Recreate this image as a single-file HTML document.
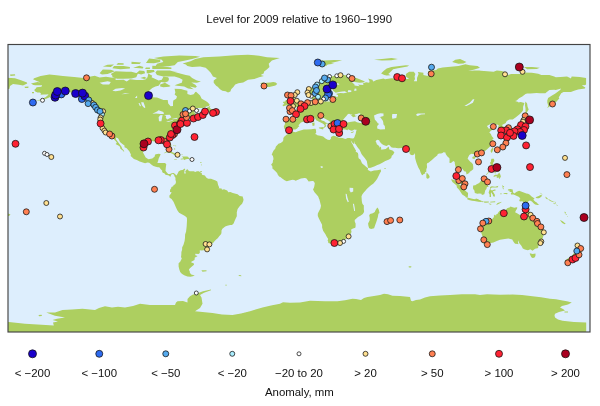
<!DOCTYPE html>
<html><head><meta charset="utf-8"><title>Level for 2009 relative to 1960-1990</title>
<style>
html,body{margin:0;padding:0;background:#fff}
svg{display:block}
text{font-family:"Liberation Sans",Arial,Helvetica,sans-serif;font-size:11.43px;fill:#111;text-anchor:middle}
</style></head><body>
<svg width="600" height="406" viewBox="0 0 600 406">
<rect width="600" height="406" fill="#fff"/>
<text x="299.2" y="23.3">Level for 2009 relative to 1960−1990</text>
<defs><filter id="b" filterUnits="userSpaceOnUse" x="0" y="0" width="600" height="406"><feGaussianBlur stdDeviation="0.4"/></filter><clipPath id="c"><rect x="8" y="44.5" width="582" height="287.5"/></clipPath></defs>
<rect x="8" y="44.5" width="582" height="287.5" fill="#ddeefd"/>
<g clip-path="url(#c)" filter="url(#b)">
<path fill="#adcf60" d="M31.0 83.5L37.4 82.0L40.6 82.5L37.4 81.3L33.0 79.2L34.2 78.2L40.6 76.0L49.4 74.4L56.6 75.2L62.9 76.0L74.1 77.1L83.7 78.1L86.9 77.3L94.8 75.7L99.6 77.4L106.0 76.8L115.6 78.2L115.6 80.0L123.6 79.8L126.7 81.6L129.9 79.3L136.3 80.0L142.7 80.0L145.9 79.3L147.5 77.3L148.3 73.4L152.3 75.7L151.5 77.3L155.4 78.9L158.6 80.5L161.8 79.7L163.4 76.8L168.2 77.3L169.0 78.9L168.2 81.3L165.0 82.4L161.0 82.0L160.2 83.6L158.6 85.7L155.4 86.4L153.9 87.2L152.3 88.0L149.1 90.8L148.8 94.3L151.5 97.2L157.0 97.5L163.4 99.9L167.7 100.1L168.2 103.6L170.6 106.3L173.0 106.0L173.0 102.8L173.3 100.4L176.2 98.8L177.0 96.4L174.6 94.5L175.4 92.4L174.6 88.8L181.0 88.9L184.2 90.0L187.4 90.8L187.4 94.0L190.5 95.1L193.7 94.3L195.3 92.0L196.1 91.8L200.1 95.6L201.7 98.8L204.9 100.4L207.3 102.0L209.7 104.4L208.9 106.0L205.7 106.8L203.3 108.1L198.5 107.9L192.9 108.1L189.7 110.3L187.4 112.4L185.8 113.4L188.9 111.6L192.1 110.0L196.1 110.0L196.4 110.3L195.3 111.6L193.7 111.6L195.3 113.2L196.1 114.5L198.5 115.1L200.9 115.3L203.3 114.5L203.3 115.3L201.7 116.1L197.7 117.0L194.5 118.8L193.4 118.0L195.3 116.4L196.1 115.6L193.7 116.2L192.1 116.7L188.9 118.0L187.0 118.6L186.4 120.2L185.8 120.7L187.4 121.2L186.4 122.0L185.0 122.1L182.6 122.5L181.0 123.4L181.0 124.8L179.5 126.1L178.6 125.2L179.2 126.8L178.6 127.9L177.8 129.2L178.6 132.0L177.0 132.8L174.6 134.1L173.0 135.1L171.4 136.0L169.8 137.1L169.2 139.9L170.6 142.7L171.4 145.6L171.1 147.2L169.8 148.2L168.5 146.7L167.1 143.9L166.9 141.9L165.0 140.3L162.9 140.8L159.9 139.9L158.6 139.9L156.7 141.9L155.4 141.8L153.1 141.3L150.7 140.8L147.8 141.5L144.0 143.9L144.0 146.7L143.0 152.6L145.7 157.6L148.4 159.2L152.3 158.5L154.7 156.6L155.0 154.7L155.9 154.2L158.6 153.8L160.2 153.9L160.6 154.6L159.4 157.1L158.6 158.7L158.3 160.3L157.4 162.9L158.6 163.0L161.8 162.9L165.0 163.0L166.3 164.3L165.8 167.5L165.5 170.7L166.6 172.3L168.2 173.9L170.1 174.0L171.6 173.2L173.8 173.1L175.5 174.4L176.5 175.5L177.8 173.2L178.6 171.6L179.7 170.7L180.7 170.2L182.6 169.9L184.6 168.4L185.3 169.4L184.3 170.5L184.8 171.2L185.8 170.7L187.4 168.8L187.7 169.9L189.7 171.3L192.1 171.3L193.7 171.3L195.3 172.1L196.9 171.3L200.1 171.2L198.8 171.6L201.7 173.1L202.0 174.7L204.9 175.5L206.2 177.4L208.1 178.7L211.0 178.8L215.6 180.4L217.3 181.4L218.1 185.1L219.2 187.5L218.5 188.2L221.6 188.6L222.0 189.8L224.0 189.2L227.2 190.6L228.3 192.2L230.4 192.1L232.8 192.9L237.6 194.2L239.7 195.9L242.7 196.6L242.9 197.5L243.5 199.6L243.3 201.0L242.1 203.7L240.0 205.8L237.6 209.0L236.8 212.2L236.8 216.2L235.7 218.6L234.7 220.7L233.6 223.4L232.0 225.0L230.1 225.0L227.2 225.8L225.2 226.6L222.4 228.7L221.5 230.6L221.5 232.3L221.2 233.9L219.2 236.2L217.7 238.2L215.9 239.7L213.8 242.1L212.9 243.3L211.3 244.1L209.4 244.0L206.8 243.2L205.9 242.5L205.9 243.5L207.8 244.9L207.6 246.2L208.6 246.5L207.3 248.9L204.9 250.1L201.7 250.5L199.8 250.2L199.8 252.9L198.5 253.9L195.3 253.7L195.3 255.3L197.6 256.1L196.1 256.9L194.8 257.4L194.5 260.1L191.3 261.7L191.3 262.5L193.7 263.3L194.0 264.7L191.3 267.0L189.7 268.4L188.9 269.7L189.9 271.8L189.7 272.3L190.2 273.2L191.3 274.5L194.8 275.6L192.9 276.2L190.5 276.7L187.4 276.4L184.2 275.3L181.8 273.7L180.2 272.1L179.4 269.7L178.6 266.5L178.6 263.3L180.2 261.7L181.8 258.5L181.0 256.9L181.3 255.0L181.4 252.1L182.1 249.7L182.2 247.3L183.4 244.9L184.6 241.0L185.0 237.8L185.1 234.6L186.1 231.4L186.7 226.1L187.0 220.5L186.9 217.8L185.0 215.9L181.8 214.3L179.1 212.7L177.3 210.3L176.0 207.4L174.6 204.2L173.5 201.8L171.6 199.1L169.6 197.8L169.3 195.8L170.9 193.7L171.6 192.2L170.0 191.9L170.1 189.8L171.2 188.2L171.4 187.0L173.2 186.2L173.3 185.4L175.4 184.1L176.0 182.0L175.4 179.5L175.5 177.7L174.7 176.8L174.3 175.6L174.0 174.8L173.0 173.9L172.2 173.9L170.9 175.0L170.8 176.6L169.8 176.6L169.5 176.0L168.2 175.2L166.6 175.0L165.5 174.7L164.1 173.1L163.3 172.9L162.1 172.0L162.3 170.7L161.0 169.4L159.4 167.6L159.3 167.2L157.8 167.2L155.8 166.7L153.4 166.1L151.9 165.1L149.2 162.7L147.5 162.4L145.1 163.2L139.7 161.4L136.8 160.0L133.9 159.0L132.6 157.7L130.4 155.7L131.0 155.2L130.7 153.9L129.3 151.2L126.7 148.3L124.5 147.2L124.5 145.6L122.1 143.7L120.0 141.9L118.8 139.5L118.0 138.3L115.9 137.5L116.1 139.5L118.0 141.9L119.1 143.5L120.4 145.3L121.5 146.7L122.4 149.1L123.1 149.6L124.3 151.2L123.7 151.7L123.1 150.7L120.4 148.8L120.0 146.7L118.4 145.6L116.9 144.8L115.6 143.9L116.9 142.7L115.6 141.1L114.3 139.7L112.9 137.6L112.1 136.0L110.2 134.1L108.4 133.5L106.8 133.2L106.0 131.6L104.6 129.8L103.6 127.9L102.8 127.6L101.5 125.2L100.6 123.7L100.9 121.2L100.4 119.9L101.2 117.2L101.2 114.5L100.9 113.2L100.1 111.0L102.8 111.3L103.8 112.2L103.6 110.3L102.5 109.5L99.9 107.9L96.4 106.8L95.2 104.7L93.2 102.8L91.2 101.5L90.9 99.6L88.5 98.0L85.3 95.6L82.9 93.5L80.5 94.8L78.1 93.7L76.0 93.1L72.5 92.4L69.3 92.3L66.6 91.6L65.3 90.8L62.9 91.2L62.1 92.4L60.5 92.4L57.4 93.7L57.4 91.6L59.8 90.5L57.4 90.8L55.8 92.0L54.2 93.2L53.4 94.8L51.0 96.4L48.6 97.7L46.2 98.8L43.0 99.6L39.8 100.4L38.4 100.7L36.1 101.1L39.0 99.9L42.2 98.8L45.4 97.2L47.6 95.6L48.6 94.3L46.2 94.5L43.8 94.5L40.6 94.7L40.9 93.2L39.8 92.4L37.4 92.4L35.3 91.6L34.2 90.0L35.8 88.4L36.6 87.3L41.4 86.8L42.2 85.2L39.0 85.2L35.2 85.2L33.4 84.9ZM182.6 63.4L190.5 61.3L195.3 58.9L203.3 57.3L219.2 56.5L235.2 55.2L248.0 54.7L259.1 55.7L267.1 57.3L279.9 58.1L271.9 60.5L268.7 63.7L269.5 66.9L267.1 69.3L263.9 71.7L263.9 73.3L260.7 74.9L263.9 76.0L259.1 77.3L254.3 79.0L248.0 79.7L243.2 82.4L238.4 83.2L235.2 84.4L233.6 86.8L231.2 89.2L230.4 91.6L228.0 92.6L225.6 91.3L222.4 90.8L220.0 89.2L217.7 86.8L216.1 85.7L213.7 82.8L213.7 80.5L216.9 78.1L212.9 76.5L212.1 74.9L210.5 72.5L208.1 70.1L205.7 67.7L200.1 66.6L192.1 66.9L187.4 66.1L185.8 64.5ZM195.3 89.4L188.1 88.4L184.2 86.4L177.0 85.7L174.6 85.2L179.4 83.6L181.8 82.8L182.6 79.7L179.4 78.1L174.6 76.5L168.2 76.5L163.4 76.5L157.0 74.9L155.4 72.5L157.0 70.6L163.4 70.4L169.8 70.6L174.6 71.7L177.8 71.7L174.6 72.1L181.0 73.7L185.8 74.9L189.7 75.7L192.1 78.1L196.9 80.5L200.9 81.6L196.9 82.8L191.3 82.4L195.3 84.8L196.9 86.8L195.3 87.8L189.7 86.5L193.7 89.2ZM290.4 130.6L289.0 130.0L287.8 128.8L284.6 129.2L283.8 126.4L284.8 124.4L285.1 122.5L284.2 119.6L285.6 118.9L286.4 118.3L289.9 118.6L292.9 118.8L296.1 118.9L296.6 118.8L297.1 116.9L297.2 115.4L297.1 114.5L295.5 113.2L295.0 112.7L292.0 111.9L291.3 111.0L293.4 110.3L295.8 110.6L296.4 110.5L296.3 108.9L297.1 109.4L299.2 109.2L300.8 108.6L301.9 107.0L302.8 106.8L303.8 106.3L304.7 106.2L305.4 105.2L306.7 103.6L307.8 103.0L310.2 102.8L311.8 102.7L312.7 102.2L313.2 101.5L312.7 100.4L312.2 99.6L311.9 98.0L312.7 97.1L315.9 96.1L315.7 97.2L315.4 98.0L315.4 98.7L314.6 99.9L314.2 100.7L315.3 101.4L316.4 102.0L317.3 102.0L318.3 101.7L319.7 101.4L320.9 101.1L321.6 102.2L324.5 101.5L328.7 101.4L330.1 101.4L330.9 100.7L332.5 99.9L332.7 99.3L332.5 98.0L333.3 96.6L335.0 96.0L337.3 97.2L337.9 95.9L338.1 95.0L336.5 94.5L336.5 93.7L338.6 93.2L340.5 93.1L343.7 93.2L347.2 92.6L344.8 91.3L342.1 91.6L338.9 92.1L335.7 92.7L334.4 91.8L333.0 90.8L333.1 89.2L333.3 87.5L335.7 86.0L338.1 84.8L339.5 84.4L338.1 83.2L337.4 83.2L334.4 83.5L333.0 85.1L331.4 86.4L328.5 87.8L326.8 88.6L326.4 91.3L328.5 92.0L329.3 92.7L326.9 94.5L325.6 95.9L325.2 97.7L323.9 98.7L321.8 99.6L319.7 99.6L319.3 98.7L318.0 96.1L316.9 94.0L316.1 92.6L315.7 93.7L314.2 94.3L311.8 95.5L310.2 95.6L308.1 94.0L307.3 91.8L307.0 90.0L307.3 88.9L308.7 88.4L311.3 87.5L314.2 86.5L316.5 84.6L318.6 83.2L319.7 82.0L322.0 80.8L323.7 79.3L325.3 78.9L329.3 76.9L332.5 76.3L336.8 75.3L340.2 74.7L343.7 74.9L348.4 75.8L345.3 76.8L349.2 76.9L351.6 77.6L356.4 77.9L359.6 79.2L364.4 81.3L364.7 81.9L362.8 82.5L359.6 82.7L354.8 82.0L350.8 81.1L352.4 82.4L354.5 84.4L354.5 85.4L359.6 86.2L358.0 84.4L359.6 84.8L363.6 85.1L362.8 83.6L366.0 82.2L369.2 82.8L369.5 81.3L368.9 79.7L368.1 78.5L372.4 79.7L373.2 81.4L374.0 81.3L376.4 80.1L383.5 78.4L385.1 79.3L386.7 78.9L391.5 78.2L394.7 78.5L395.5 76.9L397.9 76.9L401.9 77.6L405.9 78.4L405.9 78.9L409.1 78.9L405.9 76.5L405.9 74.1L409.1 71.7L413.8 71.7L415.4 74.1L414.6 76.5L415.0 78.9L413.8 81.3L417.0 81.3L417.0 78.1L418.6 74.1L417.8 72.0L423.4 72.8L423.4 74.9L426.6 75.7L431.4 76.1L428.2 73.3L428.2 70.9L436.2 70.1L437.8 68.5L442.6 67.4L450.5 66.7L458.5 66.1L465.4 64.2L469.7 65.3L477.6 66.1L480.0 67.7L474.4 69.6L468.1 70.9L474.4 70.4L479.2 70.6L480.8 70.7L487.2 71.2L493.6 71.7L496.8 70.6L501.6 70.9L504.8 72.0L504.8 74.1L507.9 74.9L511.1 74.1L515.9 74.1L520.7 74.1L522.3 72.5L531.9 72.8L538.2 73.7L541.4 75.0L549.4 74.9L554.2 76.5L555.8 77.3L560.6 76.9L567.0 76.6L570.1 78.1L570.9 78.4L571.7 76.5L579.7 76.9L586.1 78.1L586.1 84.4L584.5 85.2L582.1 84.9L582.9 86.0L585.3 87.6L585.0 88.6L578.1 89.6L574.1 90.8L570.9 92.1L563.5 92.0L561.2 93.2L559.6 95.9L558.7 97.2L559.3 98.5L557.4 100.4L557.1 101.2L554.2 103.1L552.1 103.6L551.0 105.2L548.9 107.0L547.2 107.9L548.3 106.0L547.3 102.5L547.3 100.4L548.1 98.0L552.0 95.6L555.0 93.7L557.4 92.0L560.1 90.0L561.2 88.6L555.8 90.0L554.2 89.7L549.4 90.0L546.2 92.4L545.4 93.2L539.8 93.2L536.7 92.9L530.3 93.5L527.1 93.5L525.5 94.0L522.3 96.4L519.1 98.3L516.7 100.4L515.1 100.9L518.3 102.0L518.3 102.5L520.7 102.0L524.4 103.1L523.9 104.4L523.1 106.8L523.1 110.0L522.3 111.6L519.9 114.0L515.9 117.2L512.7 119.6L509.5 119.4L507.5 120.4L506.0 122.0L505.9 123.1L502.4 124.7L502.2 125.6L503.8 126.8L505.4 129.2L505.6 130.8L504.9 132.2L502.4 132.8L500.4 133.2L500.4 132.4L500.8 130.0L500.9 128.4L499.2 128.0L498.1 127.6L498.7 125.2L497.4 124.5L497.3 124.4L493.6 125.8L492.8 126.3L493.3 124.4L493.6 123.3L492.0 123.1L489.6 124.5L486.9 126.0L488.0 127.6L488.8 128.7L491.5 127.9L492.6 128.4L494.4 128.5L490.9 130.8L489.3 132.4L490.9 134.0L491.8 136.2L493.4 137.9L493.4 138.9L491.7 139.9L493.6 140.5L493.0 142.7L491.7 143.5L489.8 146.7L487.4 149.1L485.1 151.0L481.1 152.6L480.0 152.8L477.3 153.8L475.2 154.2L474.9 155.8L474.1 155.8L474.0 153.9L472.9 153.9L471.3 153.8L469.3 155.0L467.8 157.9L467.6 158.4L468.9 160.3L470.6 161.9L471.7 162.7L472.9 164.3L473.2 166.2L473.3 168.3L473.2 169.2L471.4 170.8L469.8 171.8L469.2 173.1L466.5 174.5L466.2 172.6L465.7 171.6L464.1 171.3L463.3 169.9L462.2 168.8L460.1 168.0L459.3 166.7L458.5 167.0L458.5 169.1L457.7 170.7L457.2 171.8L457.4 173.6L458.5 174.7L459.5 176.8L460.9 177.2L462.2 178.3L463.9 180.6L463.9 182.2L464.6 184.1L465.2 186.0L464.6 186.2L463.9 185.9L462.0 184.7L460.6 183.6L459.5 181.5L459.0 179.6L458.7 178.0L458.0 177.2L456.9 175.8L455.8 175.6L455.8 173.9L456.3 172.3L456.1 169.1L456.3 168.4L455.3 165.9L454.8 163.5L454.7 161.9L453.6 161.1L452.4 161.7L451.0 163.0L449.4 162.7L449.6 160.3L449.4 158.2L447.2 156.2L445.7 154.1L445.4 152.6L443.3 152.2L442.6 153.1L441.0 153.4L439.4 153.6L437.8 153.9L437.4 155.2L435.9 156.6L434.6 157.4L431.9 160.0L430.3 161.3L428.5 162.7L427.4 163.0L426.8 164.3L427.1 167.3L426.3 169.2L426.3 171.8L425.0 172.3L425.3 173.4L423.7 174.0L422.6 175.3L421.7 174.7L420.5 172.3L419.9 170.2L418.3 167.6L416.7 163.5L415.9 161.1L415.1 157.9L415.1 154.7L414.6 153.1L414.2 154.4L412.2 155.2L410.6 154.7L409.1 152.8L410.6 151.8L409.1 151.8L408.3 150.7L406.7 149.9L405.9 148.6L405.1 147.7L401.9 148.0L398.4 148.2L396.3 148.0L395.5 147.8L393.1 147.7L391.2 147.2L389.9 145.6L388.8 144.8L386.4 145.9L383.5 145.1L381.9 143.9L380.0 142.1L379.1 140.3L377.2 139.7L376.5 140.3L375.6 141.3L376.4 142.7L376.8 144.2L379.1 145.9L379.7 147.8L380.7 146.6L381.3 148.3L380.8 149.4L382.7 149.6L385.8 149.1L387.2 147.8L388.8 146.4L389.0 148.3L389.4 149.4L392.5 150.6L394.4 152.3L393.1 154.7L391.8 155.7L391.2 157.9L389.1 159.5L387.2 160.3L385.3 161.1L382.3 162.7L379.5 164.3L377.3 165.1L374.8 166.2L370.8 167.8L368.4 168.0L367.9 167.0L367.4 164.6L367.1 162.7L366.8 161.1L364.7 157.9L362.8 155.8L361.5 153.9L360.4 151.5L359.6 149.8L358.3 148.3L357.2 146.7L355.6 144.3L354.5 143.5L354.8 141.1L353.9 143.5L353.7 144.0L352.6 143.1L350.8 140.3L350.5 138.3L352.9 138.6L353.7 138.3L354.5 137.1L354.8 135.9L355.6 134.1L356.1 131.6L356.7 129.8L355.3 129.8L354.2 129.5L352.8 130.4L351.3 130.8L348.0 129.3L347.6 130.3L345.4 129.6L344.1 129.5L342.7 129.2L342.4 127.7L341.7 126.9L341.1 125.5L340.6 125.2L340.8 124.4L342.1 123.7L345.3 123.7L345.3 122.8L345.6 122.5L349.1 122.3L349.7 122.0L355.0 121.2L356.9 122.3L360.2 122.9L362.3 122.8L365.4 121.8L365.5 120.9L364.4 119.6L362.3 118.6L359.3 116.9L357.4 116.1L358.7 115.7L359.9 114.5L359.9 113.5L361.7 112.9L358.8 113.2L357.7 113.7L355.3 114.3L354.5 114.6L355.3 115.7L357.2 115.7L355.5 116.4L353.5 117.2L352.4 117.0L352.4 116.1L350.8 115.7L352.6 114.6L350.8 114.6L349.2 113.8L348.0 114.0L346.4 115.9L344.8 117.7L343.5 119.3L342.9 120.4L343.8 121.8L345.3 122.5L345.1 122.8L342.9 122.8L341.6 123.7L340.8 124.2L340.5 123.3L340.3 123.1L337.9 122.9L337.0 123.6L337.3 124.4L336.3 124.1L335.5 123.6L335.0 124.4L335.7 125.5L336.2 126.3L337.3 127.2L337.3 128.0L336.6 127.7L335.7 127.7L336.0 128.7L336.0 130.0L334.9 130.1L333.6 129.5L333.0 128.0L333.6 127.2L332.7 127.1L332.0 126.1L331.2 125.0L330.7 124.5L329.9 123.7L329.9 122.3L329.6 121.2L327.9 120.2L325.2 118.8L323.2 117.8L322.8 116.4L322.0 115.9L321.2 116.7L320.7 115.6L320.9 115.3L318.6 115.7L318.6 117.2L319.1 118.0L320.5 118.6L321.6 120.4L324.8 121.3L324.5 122.0L326.0 122.6L327.7 123.4L328.5 124.2L328.3 124.7L326.4 123.6L325.5 124.8L326.3 126.0L325.3 126.9L324.5 127.7L323.9 127.4L324.2 126.4L324.8 126.0L324.0 124.4L322.6 123.4L321.6 123.1L320.7 122.5L318.5 121.5L317.8 121.0L316.5 120.5L315.7 119.6L315.4 118.8L314.6 117.8L313.2 117.3L312.1 118.0L310.6 118.5L308.6 119.4L307.6 119.1L305.7 118.8L304.9 118.9L303.8 120.2L304.1 121.2L302.5 122.1L300.9 122.6L300.3 123.3L298.5 125.2L299.3 126.4L298.2 127.1L297.4 128.2L295.5 129.6L295.0 129.5L292.0 129.6ZM289.6 131.1L290.5 130.9L294.2 131.9L295.8 132.2L298.0 131.2L303.8 129.5L307.0 129.5L311.4 129.3L314.6 128.7L316.5 129.0L315.4 129.5L315.9 130.1L316.1 131.1L316.2 132.8L315.1 134.1L316.5 134.4L317.3 135.2L320.1 135.7L323.1 136.5L325.5 138.4L327.7 139.7L329.6 139.9L330.9 138.7L330.9 137.0L333.3 135.7L335.0 135.9L337.3 137.0L338.9 137.8L342.4 138.1L345.3 138.9L346.7 138.4L347.5 137.9L349.7 137.9L350.5 138.3L350.8 140.3L351.0 141.1L351.6 142.7L352.9 144.8L353.7 146.7L354.8 148.6L355.6 149.9L356.1 150.1L355.6 151.5L357.9 153.1L358.3 154.7L358.3 156.9L358.8 158.4L360.4 159.5L362.0 163.3L363.1 164.3L364.7 165.4L366.6 167.2L367.1 167.5L368.1 168.3L367.7 169.7L368.4 170.2L370.8 171.6L374.0 170.5L377.2 170.2L380.8 169.4L381.0 171.6L380.0 173.1L378.8 175.5L377.2 178.7L375.6 181.1L373.2 183.8L371.3 185.1L369.2 186.7L366.8 188.9L365.2 191.1L364.2 191.9L363.0 193.4L362.3 194.6L361.5 196.2L361.7 199.1L361.8 201.0L362.3 203.4L363.1 204.7L363.8 205.3L363.8 209.0L364.1 211.4L363.9 212.2L362.8 214.1L360.4 215.7L358.0 217.0L354.7 219.9L354.8 221.8L355.6 223.4L355.6 226.4L355.3 227.7L352.4 228.7L351.0 229.8L351.5 231.4L351.0 233.4L350.2 234.2L348.4 236.0L346.9 238.2L343.5 241.0L339.8 242.5L338.1 242.9L334.4 242.7L330.9 243.8L328.3 243.0L328.2 241.7L327.6 240.5L328.2 239.0L326.6 236.6L325.3 233.9L323.1 230.7L322.1 227.4L322.1 224.8L320.4 221.5L318.9 218.6L317.8 215.9L317.8 213.8L318.3 212.5L320.4 208.4L321.0 205.8L320.1 202.3L319.4 199.4L318.6 197.8L318.5 197.0L317.8 195.9L316.5 194.5L314.5 192.2L313.4 190.3L313.0 189.4L314.0 187.6L314.3 186.3L314.6 184.6L314.8 183.6L314.2 182.0L313.2 181.1L312.2 180.9L310.2 181.2L308.6 181.4L307.6 179.9L306.2 178.2L304.4 178.0L302.8 178.2L300.9 178.5L298.7 179.5L297.4 179.9L295.7 180.7L294.2 180.1L292.6 179.8L289.4 180.6L286.7 181.2L284.6 180.3L281.8 178.2L280.7 177.2L279.1 176.4L277.8 174.7L277.1 173.1L275.7 171.5L274.9 170.7L273.6 169.4L272.4 168.4L272.4 166.9L272.2 165.9L271.1 164.8L272.0 163.5L272.7 162.7L273.0 160.3L273.5 159.3L273.2 157.1L272.7 155.5L271.7 155.0L272.0 153.9L272.7 152.3L273.6 150.4L275.2 148.8L275.9 146.6L277.6 144.8L278.4 143.7L280.7 143.1L282.7 141.5L283.5 139.7L283.2 139.4L283.4 137.9L284.2 136.7L286.9 134.6L288.2 134.0L289.0 132.4ZM377.6 207.4L378.8 209.8L379.5 213.0L378.4 213.8L378.0 216.2L377.8 217.3L376.4 221.8L375.2 225.0L374.1 228.2L371.1 229.1L369.2 228.2L368.4 225.8L368.1 223.4L369.7 220.2L369.7 217.8L369.2 215.4L370.0 214.1L372.8 213.3L374.8 211.9L375.6 210.0L376.8 208.2ZM526.3 205.3L527.9 208.2L528.4 211.1L530.8 212.2L531.6 215.2L532.2 217.8L533.1 219.1L535.9 220.5L537.0 222.1L539.2 224.3L539.7 225.8L541.1 226.9L543.4 228.2L543.4 232.0L544.0 233.8L543.0 237.0L542.2 239.7L540.3 242.2L539.5 244.1L538.2 246.5L538.2 248.1L535.1 248.8L532.5 250.7L530.3 249.3L529.8 249.4L527.9 250.2L524.9 249.6L522.8 248.6L521.8 246.5L521.0 245.3L519.9 244.1L519.1 242.9L518.8 241.0L518.8 240.2L518.0 242.2L518.5 244.3L515.9 243.8L515.8 244.0L514.6 243.3L513.0 241.0L512.3 239.5L508.3 238.6L504.8 238.9L500.0 239.8L496.8 241.0L493.4 242.4L489.6 243.2L487.1 244.3L482.6 243.2L482.4 241.7L483.4 241.4L483.5 239.4L482.7 237.0L481.8 234.2L481.0 232.2L479.9 230.1L480.0 228.2L480.4 228.0L480.2 225.8L481.0 223.1L481.8 223.1L482.6 222.7L485.3 221.3L488.2 220.7L490.4 220.0L492.8 218.6L493.9 217.0L493.9 215.4L495.0 214.4L496.1 215.9L496.1 214.6L497.6 213.8L498.4 212.2L500.0 210.6L501.6 210.3L503.2 211.9L503.5 212.7L504.8 212.0L505.6 210.6L506.4 209.0L507.6 208.1L509.5 207.6L510.5 206.5L511.9 207.1L514.3 207.7L516.7 207.3L517.4 207.7L516.7 209.3L515.9 210.6L515.1 212.2L517.5 213.6L519.9 215.1L521.5 216.2L523.6 216.2L523.7 216.0L524.7 213.8L524.9 211.4L524.9 209.0L525.3 208.4L525.5 206.6ZM529.8 253.2L532.7 253.9L535.5 253.6L535.5 255.6L534.9 257.2L533.1 257.9L531.9 257.7L530.8 256.3L529.8 254.0ZM574.5 243.2L577.0 244.9L577.8 247.0L579.4 247.0L579.7 248.3L581.3 248.9L583.7 248.5L582.9 250.5L581.3 251.3L581.3 252.9L579.7 254.2L578.4 254.7L577.8 254.2L578.4 252.4L576.5 251.5L576.2 251.0L577.5 250.2L577.6 248.1L576.8 246.5L574.9 244.5ZM574.5 252.9L575.1 254.2L577.0 254.0L576.8 255.0L576.1 256.0L574.6 257.7L575.1 258.2L572.2 259.0L571.1 261.6L569.4 262.7L567.4 262.7L566.2 262.0L564.6 261.6L565.4 260.1L566.6 259.5L567.8 258.5L570.1 257.1L572.1 256.0L572.7 254.8L573.5 253.6ZM289.9 108.2L291.8 107.9L292.5 107.9L293.4 107.6L294.2 107.3L295.2 107.6L296.9 107.1L298.8 107.1L301.2 106.6L301.2 106.2L299.8 106.0L300.6 105.5L301.8 104.4L301.1 103.8L299.5 103.8L299.5 102.8L299.0 102.7L298.7 101.9L298.0 101.2L296.8 100.4L295.8 99.1L293.9 98.8L294.9 98.3L294.4 98.0L295.7 97.1L296.1 96.4L295.8 96.1L292.3 96.4L292.6 95.8L294.1 95.0L294.2 94.7L291.0 94.7L290.5 95.3L289.7 96.4L290.1 97.2L289.1 97.7L290.2 98.2L289.7 99.9L291.0 99.3L291.2 99.0L291.5 99.8L290.9 100.6L291.2 101.1L293.4 100.6L293.3 101.2L293.9 101.9L294.4 102.3L294.1 103.0L292.0 103.0L291.7 103.9L292.5 104.4L291.5 105.0L290.5 105.4L291.0 105.8L292.6 105.8L293.9 106.2L294.7 106.0L293.4 106.5L292.3 106.5L291.8 106.8L291.0 107.6ZM287.2 99.8L289.1 100.1L290.2 100.9L290.2 101.5L289.1 102.0L289.3 103.1L289.0 104.9L287.8 105.0L285.8 105.5L283.4 106.2L282.6 105.2L282.4 105.0L283.8 104.2L284.0 103.6L284.6 103.3L283.1 103.0L283.1 101.7L285.4 101.5L285.1 100.9L285.8 100.3ZM259.9 83.6L263.1 82.2L264.7 83.6L266.6 82.7L270.3 82.5L273.2 82.0L275.7 82.4L277.3 84.0L275.4 85.4L273.5 86.0L269.2 87.0L266.6 86.7L262.8 86.4L263.9 85.6L260.7 84.6L263.9 84.3ZM507.9 134.0L509.5 132.5L511.3 131.4L513.5 131.4L515.6 131.4L517.2 128.5L518.0 128.4L517.5 129.5L520.7 127.6L522.1 125.5L522.3 123.6L522.8 122.5L524.5 122.1L524.7 123.6L525.5 125.0L523.9 127.1L523.9 129.2L523.7 131.2L522.3 132.5L521.8 131.7L520.4 133.0L519.4 133.0L517.5 133.0L517.4 133.5L515.6 134.9L514.6 133.3L513.5 132.8L512.7 133.0L510.2 133.5L508.7 134.0ZM507.9 134.1L509.1 134.6L509.5 135.5L508.6 138.1L507.5 138.7L506.7 138.3L506.7 136.3L506.0 136.0L505.7 135.1L507.0 134.4ZM510.3 134.0L513.2 133.3L513.8 134.3L513.0 135.1L511.1 136.0L510.2 135.1ZM522.3 120.4L522.8 119.1L524.5 119.1L525.0 115.7L527.1 117.2L530.8 117.5L531.2 119.1L529.3 119.6L527.6 121.2L525.2 120.2L523.9 120.7L522.8 120.7L523.4 121.7L522.3 122.0ZM525.5 101.5L527.1 103.6L527.6 106.8L528.7 109.5L526.8 112.4L527.9 113.7L526.3 114.8L525.5 113.5L525.5 111.6L525.5 108.4L525.0 105.2L525.2 102.8ZM492.8 147.8L493.4 148.3L492.8 150.7L491.8 153.1L490.7 151.8L490.7 150.2L492.0 148.3ZM475.7 156.3L476.0 157.1L474.4 159.0L472.4 158.4L472.4 157.1L474.0 156.3ZM426.6 172.6L428.5 174.5L429.6 176.3L429.3 177.9L427.6 178.8L426.4 177.9L426.3 175.5ZM491.4 158.7L493.9 158.7L494.4 161.1L493.0 163.0L493.3 165.4L495.2 165.9L496.9 167.5L496.8 168.1L495.2 166.7L493.6 166.2L492.0 166.4L491.4 165.1L490.4 164.3L490.2 162.2L491.0 161.7L491.0 160.3ZM499.2 172.6L500.4 174.7L500.9 176.6L500.0 178.2L499.0 179.3L498.9 177.4L496.8 177.9L496.8 176.3L495.7 176.3L493.6 177.1L493.7 175.8L495.2 174.7L497.3 174.7L498.1 173.9ZM497.3 168.3L498.9 168.3L499.5 170.7L498.4 172.0L497.6 171.0L497.6 169.9ZM493.6 169.4L495.3 169.9L495.8 171.5L495.5 173.6L494.4 172.9L494.5 171.5L493.4 171.5ZM489.6 170.0L489.3 171.8L486.4 175.0L485.9 174.8L488.0 172.3ZM491.0 166.7L492.6 167.0L492.8 168.4L492.0 168.8ZM473.8 185.1L474.9 185.5L476.7 184.3L479.2 183.1L480.8 180.9L482.4 180.3L484.0 178.7L485.1 177.1L486.7 178.0L489.1 179.9L487.5 181.2L486.6 181.5L486.9 183.5L487.2 184.7L488.8 186.7L486.9 187.0L486.4 189.0L485.3 190.3L484.8 192.2L484.3 194.3L481.8 195.0L481.6 193.8L479.2 193.4L477.3 193.8L474.8 192.9L474.4 190.6L473.0 188.7L473.2 188.2L472.9 186.7ZM451.0 179.3L454.5 179.9L455.8 181.5L456.4 182.2L458.5 184.1L460.1 185.1L462.5 186.7L464.1 188.2L464.6 189.8L465.7 191.1L468.1 193.0L467.9 195.4L467.8 197.7L465.8 197.5L465.4 196.6L462.2 194.5L459.1 189.8L456.9 187.5L456.6 185.5L454.5 183.8L452.4 181.9ZM466.8 199.1L468.1 197.7L469.3 198.0L472.1 198.8L475.2 199.3L476.0 198.6L478.4 199.3L478.9 199.7L481.5 200.7L481.6 202.1L478.4 201.7L474.4 201.0L472.1 200.7L468.9 200.1ZM481.6 201.3L483.5 201.3L483.4 202.3L481.8 202.0ZM484.0 201.5L488.8 201.5L488.8 202.5L485.6 202.8L484.0 202.5ZM490.1 201.7L495.2 201.3L495.2 202.3L490.4 202.5ZM496.0 204.7L497.6 202.9L501.9 201.7L500.8 202.8L497.6 204.5ZM488.8 203.4L491.7 204.1L490.7 204.7L488.8 203.9ZM490.1 187.0L491.8 186.2L495.2 186.8L498.4 185.7L497.6 187.6L495.2 187.6L492.0 187.6L490.7 188.2L490.6 189.7L492.0 190.5L494.4 189.5L495.8 189.7L495.5 190.6L493.6 191.0L492.8 191.4L494.1 193.5L495.0 195.0L494.4 196.9L493.0 195.9L492.8 194.6L491.8 193.7L492.0 192.6L490.9 192.9L491.0 195.4L491.0 197.0L489.6 197.0L489.6 194.6L488.6 192.7L489.3 190.6L490.1 188.4ZM502.4 184.7L503.2 185.9L504.3 185.9L503.2 187.5L504.0 189.5L502.8 188.7L502.5 186.7ZM503.2 193.0L507.6 193.0L507.1 194.2L504.0 193.8ZM500.0 193.4L501.9 193.4L501.6 194.3L500.3 194.2ZM507.9 189.5L510.3 188.9L512.7 189.5L513.0 192.2L514.3 193.5L516.7 191.8L519.1 190.8L523.1 192.2L526.3 193.4L528.0 193.8L529.5 194.5L531.6 196.6L533.5 197.8L534.7 198.9L533.5 199.1L533.8 200.2L535.4 201.8L536.7 202.6L538.2 204.2L539.4 205.0L537.5 204.9L535.1 204.5L533.8 203.4L531.9 201.5L530.0 200.5L528.7 201.0L527.9 201.8L527.1 202.9L524.7 202.9L522.3 201.3L519.9 201.5L519.1 199.9L520.4 199.1L519.1 197.0L515.9 195.6L513.5 194.6L511.1 194.6L510.8 193.5L511.9 192.2L509.5 191.8L509.5 190.6L507.9 190.5ZM535.5 197.2L538.2 196.2L540.6 195.0L541.9 195.1L541.4 196.7L539.0 198.2L536.7 198.2ZM539.5 192.4L541.4 193.4L543.0 195.4L542.4 195.1L540.6 193.4ZM545.4 196.6L547.8 198.5L547.3 199.4L545.7 198.2ZM548.6 199.1L551.0 200.4L553.9 201.8L553.4 202.3L550.2 201.0L548.5 199.7ZM555.0 201.5L556.1 203.4L555.5 203.6L554.5 201.8ZM556.3 204.5L557.9 205.3L557.4 205.7L556.3 205.0ZM553.4 202.9L555.6 203.7L555.0 204.2L553.6 203.7ZM560.3 220.0L563.0 221.5L565.7 223.7L564.7 224.3L562.2 222.9L560.4 220.8ZM564.6 211.6L565.8 212.2L565.8 213.5L564.7 213.2ZM565.7 213.8L566.8 214.3L566.6 215.1L565.7 214.6ZM567.1 216.2L567.9 216.4L567.8 217.0L567.1 216.8ZM581.8 216.2L583.9 216.2L583.7 217.3L582.0 217.3ZM163.6 153.3L166.6 151.5L167.6 151.2L170.6 151.5L173.0 152.5L175.4 153.6L178.3 154.7L180.7 156.0L178.6 156.5L175.1 156.6L175.9 155.4L174.1 154.9L173.0 153.9L170.6 153.1L168.5 152.8L166.9 152.2L165.2 153.0ZM180.2 159.0L181.9 158.5L183.5 158.5L182.9 157.4L181.9 156.6L184.2 156.5L187.4 156.6L188.6 157.4L189.9 158.5L188.9 158.9L187.5 158.9L185.8 159.2L184.6 160.0L183.4 159.2L181.3 159.5ZM174.0 158.9L177.3 159.3L176.3 159.8L174.3 159.5ZM191.8 158.7L194.4 159.0L193.9 159.7L191.8 159.5ZM204.4 112.2L206.5 110.0L207.3 107.6L210.5 105.8L209.7 107.6L211.3 109.2L213.7 109.5L214.5 110.8L214.9 112.4L214.5 113.8L212.6 113.5L212.9 112.4L210.5 113.4L209.7 112.2L206.5 112.2ZM94.2 107.1L99.1 108.2L102.0 110.8L100.4 110.8L98.0 109.5L95.6 108.4ZM86.9 102.0L88.9 102.0L90.1 104.9L88.0 103.6ZM52.6 96.4L55.8 95.6L56.1 96.6L53.7 97.5ZM381.1 73.6L383.5 70.9L386.7 68.5L391.5 66.9L399.5 66.1L405.9 65.3L409.1 65.4L407.5 66.4L397.9 68.2L393.1 69.3L390.7 71.7L388.3 74.1L390.7 75.3L386.7 75.5L384.3 74.9ZM316.5 61.0L324.5 60.5L334.1 59.9L342.1 60.3L337.3 61.6L330.9 62.9L334.1 63.7L327.7 64.5L326.1 65.9L321.3 64.5L319.7 63.4L316.5 62.1ZM452.1 62.1L455.3 59.7L460.1 58.9L466.5 62.1L463.3 63.4L458.5 63.7ZM523.9 67.0L531.9 66.9L539.8 67.8L536.7 69.1L527.1 69.3ZM374.0 59.7L381.9 59.1L391.5 58.1L397.9 58.9L391.5 60.2L381.9 60.5ZM318.9 127.6L323.9 127.1L323.2 129.2L322.9 129.6L318.9 128.2ZM312.1 122.9L314.5 122.6L314.5 125.6L312.6 126.0L312.4 124.4ZM312.7 120.4L314.0 119.6L314.2 122.0L313.0 122.0ZM336.5 131.6L340.9 131.9L340.5 132.4L336.6 132.0ZM350.5 132.4L354.2 131.2L353.2 132.4L351.6 133.0ZM316.5 99.3L318.9 98.7L318.9 100.1L316.9 100.1ZM314.6 99.6L316.2 99.6L316.1 100.4L314.9 100.3ZM328.0 96.7L329.6 95.8L329.0 96.9L328.0 97.4ZM160.2 84.4L165.0 82.8L170.6 86.0L169.0 86.8L163.4 87.3L160.2 86.5ZM110.8 74.1L115.6 71.2L126.7 71.7L131.5 71.7L137.9 73.6L136.3 77.3L131.5 78.4L123.6 78.7L117.2 78.7L112.4 77.3L112.4 75.7ZM99.6 73.3L102.8 69.6L110.8 69.8L114.8 71.2L107.6 74.1L102.0 74.5ZM136.3 73.3L139.5 70.4L144.3 70.9L145.1 73.3L141.1 74.4ZM146.7 73.3L146.7 70.1L153.9 70.1L154.7 71.7L149.1 73.3ZM140.3 78.1L144.3 76.8L146.7 78.1L144.3 78.9ZM152.3 69.0L152.3 65.8L158.6 66.1L171.4 67.4L171.4 69.0ZM112.4 68.2L114.0 66.1L123.6 66.1L129.9 66.9L129.9 68.5L120.4 69.3ZM133.1 67.7L139.5 65.8L143.5 66.9L142.7 68.5ZM145.9 62.9L149.1 58.4L160.2 59.7L160.2 62.1L153.9 63.2ZM155.4 66.4L157.0 63.7L163.4 62.1L161.8 59.7L153.9 58.1L163.4 56.5L179.4 55.5L195.3 56.0L200.1 56.8L192.1 58.9L184.2 60.8L177.8 62.1L174.6 65.3L168.2 66.2ZM102.8 66.6L107.6 64.8L114.0 64.5L110.8 66.9ZM131.5 64.0L131.5 61.8L141.1 62.4L139.5 64.0ZM196.1 108.6L200.1 109.4L197.7 109.5ZM196.4 113.5L200.1 114.0L199.3 114.8L196.9 114.3ZM200.3 171.0L201.9 171.0L201.7 172.1L200.3 172.1ZM201.4 270.2L206.5 270.2L206.5 271.3L202.5 271.8ZM50.2 156.0L51.8 156.6L51.0 157.9L50.2 157.1ZM384.0 168.0L385.9 168.0L385.8 168.8L384.2 168.6ZM408.6 266.2L411.4 266.3L411.1 267.6L408.9 267.5ZM174.1 148.2L175.1 148.3L175.2 149.9L174.3 149.6ZM175.1 145.3L176.2 145.8L176.0 146.7L175.4 146.1ZM173.0 145.6L174.7 145.5L174.7 145.9L173.2 145.9ZM181.4 154.4L182.6 154.2L182.4 154.9L181.6 154.9ZM200.3 161.9L201.4 161.9L201.4 162.9L200.4 162.9ZM201.2 164.5L202.0 164.6L202.0 165.4L201.4 165.3ZM116.4 64.8L123.6 64.8L123.6 63.2L118.0 62.9ZM145.1 69.1L149.9 69.0L149.9 67.5L145.9 67.5Z"/>
<path fill="#ddeefd" d="M380.3 113.2L377.2 114.0L374.0 115.6L374.8 119.6L376.4 121.2L378.0 123.6L379.2 123.7L377.2 126.0L377.2 128.4L380.3 129.6L385.1 129.2L384.8 126.0L383.5 124.4L383.2 122.0L382.7 120.4L380.3 117.2L379.2 117.2L383.5 115.9L383.5 113.5ZM392.3 114.0L397.1 114.0L396.3 118.0L392.3 118.8L392.0 116.4ZM152.3 113.7L157.0 111.6L158.6 110.3L163.4 111.9L163.9 114.0L160.2 114.0L156.2 113.5ZM159.0 121.2L161.4 121.2L162.6 115.1L160.2 115.3L158.6 117.2ZM164.2 114.9L169.8 114.8L171.4 117.2L167.4 119.6L165.8 118.0L166.1 116.1ZM166.0 121.7L173.0 119.9L173.0 120.4L168.2 122.1ZM171.7 119.1L177.3 117.8L177.3 118.8L173.0 119.3ZM141.1 102.3L143.5 102.3L145.4 107.6L144.3 107.9L141.9 105.2ZM99.6 82.8L107.6 81.3L110.8 82.0L109.2 84.4L102.8 84.4ZM112.4 90.8L115.6 88.8L122.0 88.0L125.1 88.4L120.4 90.4L115.6 91.2ZM464.4 106.0L466.5 106.0L472.9 102.8L474.4 99.3L472.9 99.3L469.7 102.8ZM349.6 187.8L353.2 187.9L353.2 191.4L350.8 192.6L349.6 190.6ZM416.2 114.3L417.8 113.5L421.8 113.5L425.0 113.4L425.0 114.3L421.0 114.5L417.8 115.9L416.6 115.6ZM347.6 92.3L348.4 90.0L351.3 90.5L351.3 92.0ZM354.0 90.8L354.8 88.4L356.4 88.8L356.4 90.8ZM345.6 193.7L346.7 194.0L347.5 197.8L348.8 201.8L347.8 202.3L346.1 198.6ZM352.9 203.6L354.0 203.9L354.7 207.4L355.1 211.1L354.2 211.1L353.5 207.4ZM320.5 166.2L322.6 166.2L322.6 168.0L320.9 167.8ZM121.2 94.3L125.1 93.2L129.9 93.4L125.1 94.0ZM135.0 98.0L137.1 95.6L137.1 98.0ZM138.5 103.1L139.8 103.3L141.1 106.3L139.8 106.0ZM184.3 171.3L185.4 171.2L185.8 173.4L184.3 173.4Z"/>
<path fill="#adcf60" d="M7.0 77.8L15.0 78.3L21.0 80.3L27.0 82.5L27.2 83.5L23.0 85.6L19.0 84.8L13.0 84.0L10.0 86.0L9.3 89.0L7.0 89.0ZM10.0 74.4L15.0 74.2L15.2 75.6L10.5 75.9ZM24.5 86.8L28.5 86.6L28.3 87.9L25.0 88.0ZM32.0 92.0L34.0 92.0L34.0 93.2L32.0 93.2ZM7.0 322.0L8.8 322.0L25.0 323.8L37.5 324.5L53.8 325.5L53.0 322.5L58.0 321.5L52.5 320.0L57.0 318.8L65.0 317.5L55.0 315.8L46.2 312.5L55.0 312.6L62.5 310.0L72.0 309.5L82.5 308.8L95.0 310.0L99.0 308.0L105.0 306.2L112.0 307.5L118.0 306.8L125.0 307.5L133.0 306.0L140.0 303.8L150.0 305.0L175.0 305.0L176.0 302.5L177.5 301.2L183.0 301.0L187.5 302.5L187.5 299.0L190.0 296.2L193.0 294.5L196.2 293.8L203.0 291.3L211.0 289.5L211.0 290.3L204.0 292.8L200.0 295.0L201.5 297.5L202.5 303.8L200.0 308.0L195.0 311.2L212.5 313.0L222.0 314.5L232.5 315.0L241.0 313.5L250.0 311.2L262.5 307.5L271.0 305.5L280.0 303.8L283.0 302.3L290.0 302.8L300.0 302.5L310.0 300.8L325.0 301.3L337.5 301.2L345.0 300.3L352.5 298.8L356.0 299.0L361.0 300.0L364.0 298.0L367.5 297.0L374.0 296.0L380.0 295.0L384.0 293.8L388.0 294.3L392.5 295.8L400.0 296.0L410.0 297.0L411.0 300.8L412.5 301.2L416.0 300.0L420.0 299.5L425.0 297.5L430.0 296.2L440.0 295.5L450.0 295.0L462.0 294.3L475.0 294.2L480.0 295.0L487.0 294.3L500.0 294.8L512.5 294.5L522.0 295.0L532.5 296.2L541.0 297.3L550.0 298.8L556.0 299.3L562.5 300.5L567.0 301.3L571.8 302.5L568.0 304.5L562.0 306.0L560.0 307.5L563.0 309.0L565.0 310.5L559.0 312.0L555.0 313.8L554.5 315.5L555.0 317.5L558.0 319.5L562.5 320.8L574.0 322.0L586.2 322.5L586.2 333.0L7.0 333.0ZM38.5 315.0L41.5 314.8L42.0 316.0L39.0 316.3ZM564.5 311.6L568.0 311.4L568.0 312.4L564.5 312.5ZM238.5 275.0L241.0 275.3L241.5 276.2L239.0 276.0ZM225.3 284.7L226.8 284.7L226.8 285.5L225.3 285.5ZM8.0 213.5L10.5 214.5L9.0 216.0L8.0 216.0Z"/>
<path fill="#ddeefd" d=""/>
</g>
<rect x="8" y="44.5" width="582" height="287.5" fill="none" stroke="#444" stroke-width="1.15"/>
<g stroke="#111" stroke-width="0.75" clip-path="url(#c)">
<circle cx="15.5" cy="143.8" r="3.5" fill="#ff2233"/>
<circle cx="44.5" cy="153.3" r="2.0" fill="#ffffff"/>
<circle cx="47.0" cy="154.5" r="2.0" fill="#ffffff"/>
<circle cx="51.3" cy="157.0" r="2.5" fill="#ffe090"/>
<circle cx="46.3" cy="203.0" r="2.5" fill="#ffe090"/>
<circle cx="26.3" cy="211.8" r="3.0" fill="#ff8052"/>
<circle cx="60.0" cy="216.5" r="2.5" fill="#ffe090"/>
<circle cx="32.9" cy="102.5" r="3.5" fill="#2e6bf0"/>
<circle cx="42.5" cy="100.3" r="2.0" fill="#ffffff"/>
<circle cx="61.3" cy="94.4" r="3.5" fill="#2e6bf0"/>
<circle cx="81.9" cy="99.0" r="3.5" fill="#2e6bf0"/>
<circle cx="55.0" cy="97.3" r="4.0" fill="#1a00cc"/>
<circle cx="55.6" cy="95.0" r="4.0" fill="#1a00cc"/>
<circle cx="57.3" cy="91.5" r="4.0" fill="#1a00cc"/>
<circle cx="65.3" cy="91.0" r="4.0" fill="#1a00cc"/>
<circle cx="75.6" cy="93.5" r="4.0" fill="#1a00cc"/>
<circle cx="84.8" cy="96.0" r="4.0" fill="#1a00cc"/>
<circle cx="82.5" cy="93.1" r="4.0" fill="#1a00cc"/>
<circle cx="86.5" cy="77.8" r="3.0" fill="#ff8052"/>
<circle cx="91.9" cy="102.8" r="2.5" fill="#ffe090"/>
<circle cx="88.8" cy="100.0" r="3.0" fill="#55aaee"/>
<circle cx="88.1" cy="103.6" r="3.0" fill="#55aaee"/>
<circle cx="93.9" cy="104.9" r="3.0" fill="#55aaee"/>
<circle cx="95.6" cy="107.3" r="3.0" fill="#55aaee"/>
<circle cx="97.5" cy="110.0" r="3.0" fill="#55aaee"/>
<circle cx="103.1" cy="111.3" r="2.5" fill="#ffe090"/>
<circle cx="101.9" cy="114.4" r="2.5" fill="#aaeeff"/>
<circle cx="100.0" cy="111.3" r="3.0" fill="#55aaee"/>
<circle cx="100.6" cy="117.5" r="2.5" fill="#ffe090"/>
<circle cx="100.2" cy="119.5" r="2.5" fill="#ffe090"/>
<circle cx="102.5" cy="128.1" r="2.5" fill="#ffe090"/>
<circle cx="104.4" cy="130.6" r="2.5" fill="#ffe090"/>
<circle cx="105.6" cy="132.5" r="2.5" fill="#ffe090"/>
<circle cx="100.6" cy="123.5" r="3.5" fill="#ff2233"/>
<circle cx="111.9" cy="136.0" r="3.0" fill="#ff8052"/>
<circle cx="109.6" cy="134.0" r="3.0" fill="#ff8052"/>
<circle cx="148.5" cy="95.6" r="4.0" fill="#1a00cc"/>
<circle cx="143.5" cy="147.5" r="3.5" fill="#ff2233"/>
<circle cx="148.0" cy="141.5" r="3.5" fill="#ff2233"/>
<circle cx="144.0" cy="143.8" r="4.0" fill="#aa0020"/>
<circle cx="164.5" cy="141.3" r="3.0" fill="#ff8052"/>
<circle cx="160.8" cy="140.0" r="3.5" fill="#ff2233"/>
<circle cx="158.5" cy="140.3" r="3.5" fill="#ff2233"/>
<circle cx="169.0" cy="149.3" r="3.0" fill="#ff8052"/>
<circle cx="167.0" cy="144.3" r="3.5" fill="#ff2233"/>
<circle cx="174.5" cy="134.0" r="3.0" fill="#ff8052"/>
<circle cx="172.5" cy="135.0" r="3.5" fill="#ff2233"/>
<circle cx="169.8" cy="137.5" r="3.5" fill="#ff2233"/>
<circle cx="171.0" cy="134.0" r="3.5" fill="#ff2233"/>
<circle cx="175.0" cy="125.5" r="3.5" fill="#ff2233"/>
<circle cx="180.0" cy="123.5" r="3.5" fill="#ff2233"/>
<circle cx="182.0" cy="120.5" r="3.5" fill="#ff2233"/>
<circle cx="177.0" cy="129.7" r="4.0" fill="#aa0020"/>
<circle cx="180.5" cy="124.0" r="3.5" fill="#ff2233"/>
<circle cx="187.0" cy="122.9" r="3.5" fill="#ff2233"/>
<circle cx="185.5" cy="110.5" r="3.0" fill="#55aaee"/>
<circle cx="189.5" cy="111.0" r="2.0" fill="#ffffff"/>
<circle cx="196.5" cy="110.5" r="2.0" fill="#ffffff"/>
<circle cx="192.8" cy="108.5" r="2.5" fill="#ffe090"/>
<circle cx="183.0" cy="114.5" r="3.0" fill="#ff8052"/>
<circle cx="186.5" cy="117.5" r="3.0" fill="#ff8052"/>
<circle cx="185.5" cy="113.8" r="3.0" fill="#ff8052"/>
<circle cx="193.5" cy="118.5" r="3.5" fill="#ff2233"/>
<circle cx="198.0" cy="117.0" r="3.5" fill="#ff2233"/>
<circle cx="202.8" cy="115.0" r="3.5" fill="#ff2233"/>
<circle cx="205.0" cy="111.5" r="3.5" fill="#ff2233"/>
<circle cx="216.0" cy="112.0" r="3.5" fill="#ff2233"/>
<circle cx="213.0" cy="113.0" r="3.5" fill="#ff2233"/>
<circle cx="194.5" cy="137.0" r="3.5" fill="#ff2233"/>
<circle cx="177.5" cy="154.8" r="2.5" fill="#ffe090"/>
<circle cx="192.0" cy="159.5" r="2.0" fill="#ffffff"/>
<circle cx="154.5" cy="189.3" r="3.0" fill="#ff8052"/>
<circle cx="205.6" cy="244.0" r="2.5" fill="#ffe090"/>
<circle cx="209.4" cy="244.4" r="2.5" fill="#ffe090"/>
<circle cx="207.1" cy="249.4" r="2.5" fill="#ffe090"/>
<circle cx="196.3" cy="293.0" r="2.0" fill="#ffffff"/>
<circle cx="264.0" cy="86.0" r="3.0" fill="#ff8052"/>
<circle cx="322.2" cy="64.0" r="3.0" fill="#55aaee"/>
<circle cx="317.8" cy="62.5" r="3.5" fill="#2e6bf0"/>
<circle cx="329.5" cy="76.5" r="2.0" fill="#ffffff"/>
<circle cx="336.8" cy="75.8" r="2.0" fill="#ffffff"/>
<circle cx="340.5" cy="75.2" r="2.5" fill="#ffe090"/>
<circle cx="348.5" cy="76.0" r="2.0" fill="#ffffff"/>
<circle cx="352.0" cy="78.5" r="3.0" fill="#ff8052"/>
<circle cx="321.8" cy="81.2" r="2.5" fill="#aaeeff"/>
<circle cx="327.5" cy="79.8" r="3.0" fill="#55aaee"/>
<circle cx="324.5" cy="78.0" r="3.0" fill="#55aaee"/>
<circle cx="317.0" cy="84.5" r="2.5" fill="#aaeeff"/>
<circle cx="315.5" cy="87.0" r="3.0" fill="#55aaee"/>
<circle cx="315.0" cy="93.5" r="3.0" fill="#55aaee"/>
<circle cx="318.0" cy="96.8" r="2.5" fill="#aaeeff"/>
<circle cx="316.5" cy="90.5" r="3.0" fill="#55aaee"/>
<circle cx="329.0" cy="93.5" r="3.5" fill="#2e6bf0"/>
<circle cx="328.0" cy="94.5" r="3.5" fill="#2e6bf0"/>
<circle cx="325.5" cy="98.0" r="3.0" fill="#55aaee"/>
<circle cx="327.0" cy="89.0" r="4.0" fill="#1a00cc"/>
<circle cx="332.8" cy="84.9" r="4.0" fill="#1a00cc"/>
<circle cx="323.5" cy="99.0" r="2.0" fill="#ffffff"/>
<circle cx="320.8" cy="101.5" r="2.5" fill="#ffe090"/>
<circle cx="311.2" cy="96.2" r="2.0" fill="#ffffff"/>
<circle cx="332.8" cy="99.5" r="3.0" fill="#ff8052"/>
<circle cx="308.8" cy="89.0" r="2.5" fill="#ffe090"/>
<circle cx="307.5" cy="92.5" r="2.5" fill="#ffe090"/>
<circle cx="308.5" cy="95.0" r="2.5" fill="#ffe090"/>
<circle cx="297.3" cy="92.2" r="2.5" fill="#ffe090"/>
<circle cx="294.8" cy="95.0" r="2.5" fill="#ffe090"/>
<circle cx="296.8" cy="100.7" r="2.5" fill="#ffe090"/>
<circle cx="311.0" cy="103.0" r="2.5" fill="#ffe090"/>
<circle cx="293.0" cy="106.1" r="2.5" fill="#ffe090"/>
<circle cx="287.5" cy="95.0" r="3.0" fill="#ff8052"/>
<circle cx="291.0" cy="95.5" r="3.0" fill="#ff8052"/>
<circle cx="315.2" cy="101.8" r="3.0" fill="#ff8052"/>
<circle cx="307.5" cy="102.6" r="3.0" fill="#ff8052"/>
<circle cx="301.0" cy="103.8" r="3.0" fill="#ff8052"/>
<circle cx="290.5" cy="101.0" r="3.5" fill="#ff2233"/>
<circle cx="304.5" cy="106.1" r="3.5" fill="#ff2233"/>
<circle cx="300.5" cy="108.9" r="3.5" fill="#ff2233"/>
<circle cx="290.0" cy="111.6" r="3.0" fill="#ff8052"/>
<circle cx="289.5" cy="108.0" r="3.0" fill="#ff8052"/>
<circle cx="292.3" cy="110.6" r="3.0" fill="#ff8052"/>
<circle cx="296.0" cy="114.3" r="3.5" fill="#ff2233"/>
<circle cx="286.0" cy="119.2" r="3.0" fill="#ff8052"/>
<circle cx="292.8" cy="119.3" r="3.0" fill="#ff8052"/>
<circle cx="307.0" cy="119.4" r="3.5" fill="#ff2233"/>
<circle cx="310.5" cy="118.8" r="3.5" fill="#ff2233"/>
<circle cx="289.0" cy="130.2" r="3.5" fill="#ff2233"/>
<circle cx="320.8" cy="115.5" r="3.0" fill="#ff8052"/>
<circle cx="330.8" cy="126.0" r="3.0" fill="#ff8052"/>
<circle cx="334.5" cy="124.0" r="3.5" fill="#ff2233"/>
<circle cx="337.5" cy="123.0" r="3.5" fill="#2e6bf0"/>
<circle cx="343.5" cy="124.0" r="3.5" fill="#ff2233"/>
<circle cx="333.5" cy="129.5" r="3.5" fill="#ff2233"/>
<circle cx="339.2" cy="133.0" r="3.5" fill="#ff2233"/>
<circle cx="339.0" cy="129.0" r="3.5" fill="#ff2233"/>
<circle cx="361.2" cy="118.0" r="3.0" fill="#ff8052"/>
<circle cx="365.7" cy="121.3" r="4.0" fill="#aa0020"/>
<circle cx="397.2" cy="77.0" r="3.5" fill="#ff2233"/>
<circle cx="402.0" cy="78.3" r="3.5" fill="#ff2233"/>
<circle cx="431.2" cy="73.8" r="3.0" fill="#ff8052"/>
<circle cx="431.5" cy="67.2" r="3.0" fill="#55aaee"/>
<circle cx="505.0" cy="74.3" r="2.5" fill="#ffe090"/>
<circle cx="522.5" cy="71.8" r="2.5" fill="#ffe090"/>
<circle cx="519.3" cy="67.0" r="4.0" fill="#aa0020"/>
<circle cx="552.5" cy="104.0" r="3.0" fill="#ff8052"/>
<circle cx="406.0" cy="149.0" r="3.5" fill="#ff2233"/>
<circle cx="387.0" cy="221.6" r="3.0" fill="#ff8052"/>
<circle cx="390.6" cy="220.4" r="3.0" fill="#ff8052"/>
<circle cx="399.8" cy="220.0" r="3.0" fill="#ff8052"/>
<circle cx="348.6" cy="236.4" r="2.5" fill="#ffe090"/>
<circle cx="343.6" cy="241.4" r="2.0" fill="#ffffff"/>
<circle cx="340.0" cy="243.0" r="2.5" fill="#ffe090"/>
<circle cx="334.4" cy="243.0" r="3.5" fill="#ff2233"/>
<circle cx="493.3" cy="126.6" r="3.0" fill="#ff8052"/>
<circle cx="508.5" cy="127.7" r="3.0" fill="#ff8052"/>
<circle cx="525.2" cy="115.8" r="3.0" fill="#ff8052"/>
<circle cx="523.5" cy="120.0" r="2.5" fill="#ffe090"/>
<circle cx="523.0" cy="121.6" r="2.5" fill="#ffe090"/>
<circle cx="521.0" cy="125.0" r="3.5" fill="#ff2233"/>
<circle cx="525.5" cy="126.4" r="3.5" fill="#ff2233"/>
<circle cx="524.0" cy="130.0" r="3.5" fill="#ff2233"/>
<circle cx="517.5" cy="129.3" r="3.5" fill="#ff2233"/>
<circle cx="520.0" cy="132.0" r="3.5" fill="#ff2233"/>
<circle cx="514.5" cy="131.3" r="3.5" fill="#ff2233"/>
<circle cx="506.2" cy="130.3" r="3.5" fill="#ff2233"/>
<circle cx="501.2" cy="130.5" r="3.5" fill="#ff2233"/>
<circle cx="501.0" cy="135.5" r="3.5" fill="#ff2233"/>
<circle cx="507.0" cy="137.5" r="3.5" fill="#ff2233"/>
<circle cx="513.5" cy="135.9" r="3.5" fill="#ff2233"/>
<circle cx="510.0" cy="132.8" r="3.5" fill="#ff2233"/>
<circle cx="529.6" cy="119.9" r="4.0" fill="#aa0020"/>
<circle cx="522.2" cy="135.5" r="4.0" fill="#1a00cc"/>
<circle cx="526.1" cy="145.4" r="3.5" fill="#ff2233"/>
<circle cx="530.0" cy="167.1" r="3.5" fill="#ff2233"/>
<circle cx="505.9" cy="143.1" r="3.0" fill="#ff8052"/>
<circle cx="502.8" cy="147.0" r="3.0" fill="#ff8052"/>
<circle cx="497.3" cy="149.8" r="3.0" fill="#ff8052"/>
<circle cx="492.8" cy="143.8" r="3.0" fill="#ff8052"/>
<circle cx="477.3" cy="154.0" r="3.0" fill="#ff8052"/>
<circle cx="481.5" cy="152.9" r="3.0" fill="#ff8052"/>
<circle cx="478.5" cy="161.9" r="3.0" fill="#ff8052"/>
<circle cx="458.4" cy="169.6" r="3.0" fill="#ff8052"/>
<circle cx="458.8" cy="180.6" r="3.0" fill="#ff8052"/>
<circle cx="462.3" cy="178.5" r="3.0" fill="#ff8052"/>
<circle cx="465.0" cy="183.8" r="3.0" fill="#ff8052"/>
<circle cx="463.8" cy="186.9" r="3.0" fill="#ff8052"/>
<circle cx="456.3" cy="176.0" r="3.5" fill="#ff2233"/>
<circle cx="484.1" cy="178.8" r="3.0" fill="#ff8052"/>
<circle cx="487.5" cy="181.9" r="3.0" fill="#ff8052"/>
<circle cx="491.5" cy="169.0" r="3.5" fill="#ff2233"/>
<circle cx="496.9" cy="167.5" r="4.0" fill="#aa0020"/>
<circle cx="565.0" cy="157.9" r="2.5" fill="#ffe090"/>
<circle cx="566.9" cy="174.6" r="3.0" fill="#ff8052"/>
<circle cx="584.0" cy="217.5" r="4.0" fill="#aa0020"/>
<circle cx="503.8" cy="213.2" r="3.5" fill="#ff2233"/>
<circle cx="488.8" cy="221.0" r="3.0" fill="#ff8052"/>
<circle cx="486.0" cy="221.3" r="3.0" fill="#55aaee"/>
<circle cx="482.8" cy="223.1" r="3.0" fill="#ff8052"/>
<circle cx="480.5" cy="228.8" r="3.0" fill="#ff8052"/>
<circle cx="483.8" cy="239.8" r="3.0" fill="#ff8052"/>
<circle cx="487.3" cy="244.6" r="3.0" fill="#ff8052"/>
<circle cx="525.6" cy="209.4" r="3.5" fill="#ff2233"/>
<circle cx="525.6" cy="205.6" r="3.5" fill="#2e6bf0"/>
<circle cx="524.0" cy="216.5" r="3.5" fill="#ff2233"/>
<circle cx="530.6" cy="214.8" r="2.5" fill="#ffe090"/>
<circle cx="532.8" cy="218.1" r="3.0" fill="#ff8052"/>
<circle cx="536.9" cy="221.3" r="3.0" fill="#ff8052"/>
<circle cx="537.5" cy="223.5" r="3.0" fill="#ff8052"/>
<circle cx="540.9" cy="226.9" r="3.0" fill="#ff8052"/>
<circle cx="543.8" cy="232.3" r="2.5" fill="#ffe090"/>
<circle cx="541.3" cy="241.5" r="2.5" fill="#ffe090"/>
<circle cx="540.4" cy="243.1" r="2.5" fill="#ffe090"/>
<circle cx="567.8" cy="262.8" r="3.0" fill="#ff8052"/>
<circle cx="572.5" cy="259.5" r="3.5" fill="#ff2233"/>
<circle cx="575.5" cy="258.0" r="3.5" fill="#ff2233"/>
<circle cx="579.0" cy="254.8" r="3.0" fill="#ff8052"/>
<circle cx="577.5" cy="245.5" r="2.5" fill="#ffe090"/>
<circle cx="580.7" cy="248.5" r="3.0" fill="#ff8052"/>
<circle cx="576.8" cy="251.0" r="3.0" fill="#55aaee"/>
</g>
<g stroke="#111" stroke-width="0.75">
<circle cx="32.50" cy="353.8" r="4.0" fill="#1a00cc"/>
<circle cx="99.25" cy="353.8" r="3.5" fill="#2e6bf0"/>
<circle cx="165.75" cy="353.8" r="3.0" fill="#55aaee"/>
<circle cx="232.25" cy="353.8" r="2.5" fill="#aaeeff"/>
<circle cx="299.00" cy="353.8" r="2.0" fill="#ffffff"/>
<circle cx="365.50" cy="353.8" r="2.5" fill="#ffe090"/>
<circle cx="432.25" cy="353.8" r="3.0" fill="#ff8052"/>
<circle cx="499.00" cy="353.8" r="3.5" fill="#ff2233"/>
<circle cx="565.50" cy="353.8" r="4.0" fill="#aa0020"/>
</g>
<text x="32.50" y="377">&lt; −200</text>
<text x="99.25" y="377">&lt; −100</text>
<text x="165.75" y="377">&lt; −50</text>
<text x="232.25" y="377">&lt; −20</text>
<text x="299.00" y="377">−20 to 20</text>
<text x="365.50" y="377">&gt; 20</text>
<text x="432.25" y="377">&gt; 50</text>
<text x="499.00" y="377">&gt; 100</text>
<text x="565.50" y="377">&gt; 200</text>
<text x="299.4" y="395.5">Anomaly, mm</text>
</svg>
</body></html>
